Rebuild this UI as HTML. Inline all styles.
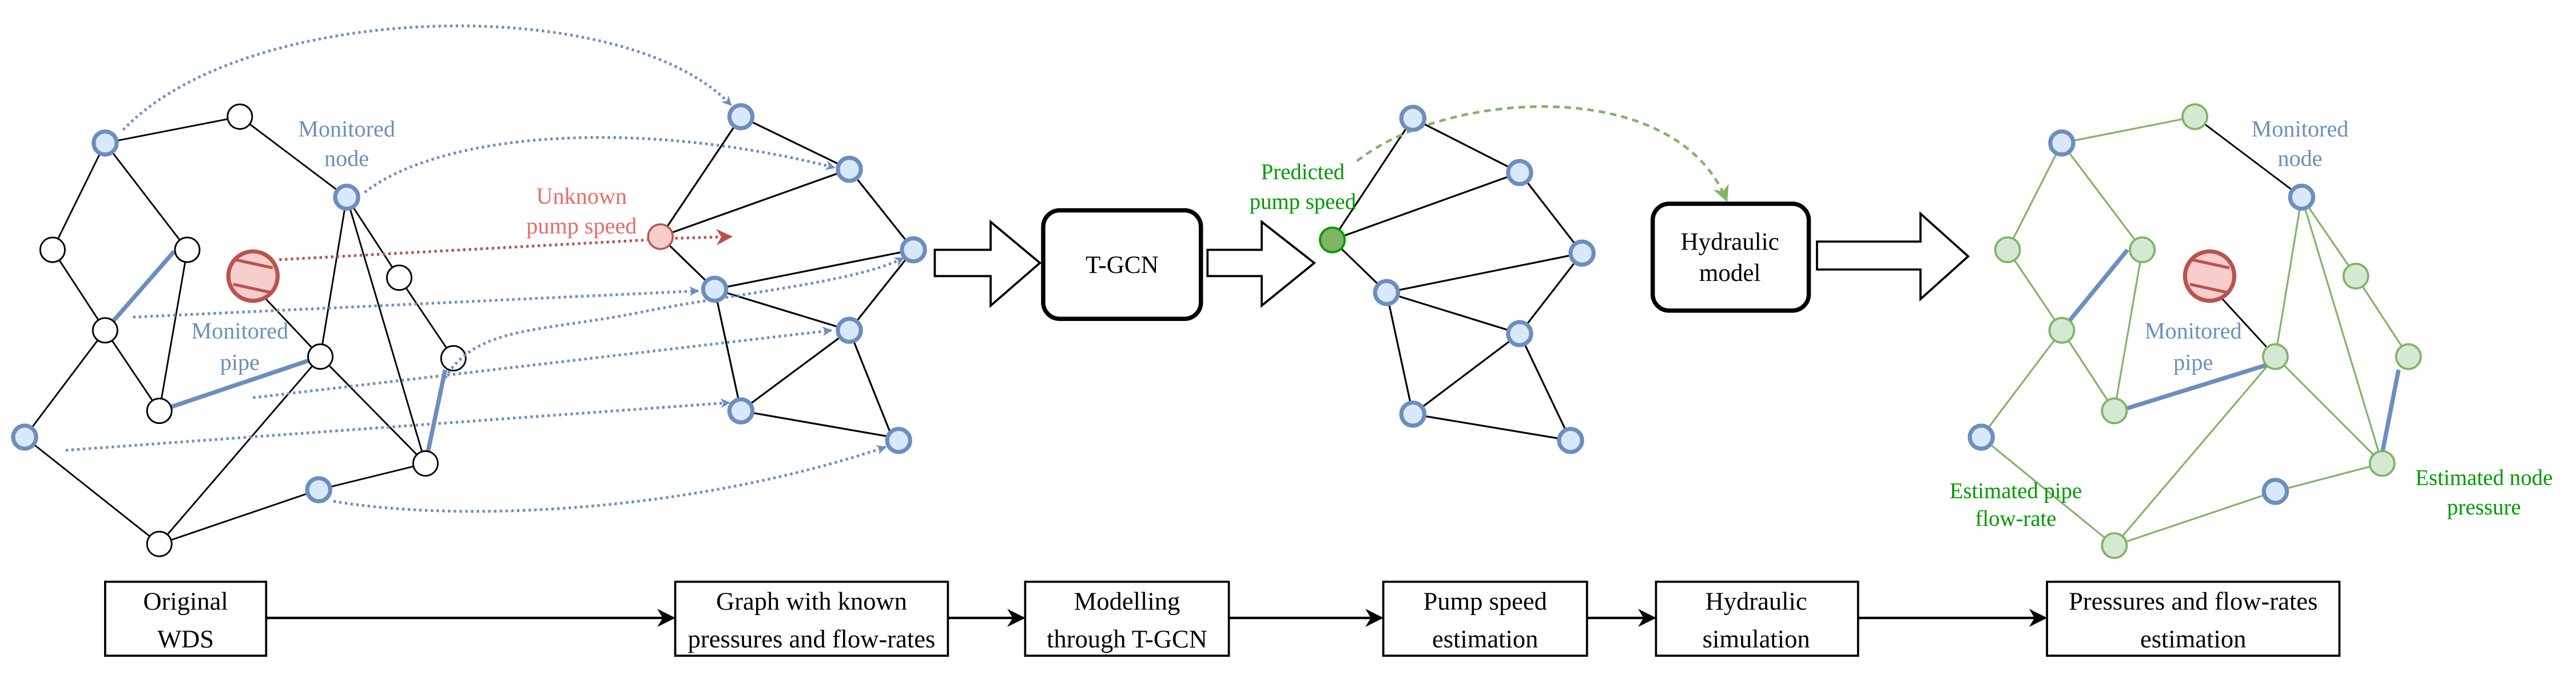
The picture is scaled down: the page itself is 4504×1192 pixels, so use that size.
<!DOCTYPE html>
<html><head><meta charset="utf-8"><style>
html,body{margin:0;padding:0;background:#fff;}
svg{display:block;}
svg text{font-family:"Liberation Serif","Times New Roman",serif;}
</style></head><body>
<svg width="4504" height="1192" viewBox="0 0 1568 415" preserveAspectRatio="none" xmlns="http://www.w3.org/2000/svg" font-family="Liberation Serif, serif">
<defs>
<marker id="ab" viewBox="0 0 10 10" refX="9" refY="5" markerWidth="6" markerHeight="6" orient="auto" markerUnits="userSpaceOnUse"><path d="M0,0 L10,5 L0,10 L3,5 Z" fill="#6c8ebf"/></marker>
<marker id="ar" viewBox="0 0 10 10" refX="9" refY="5" markerWidth="10" markerHeight="10" orient="auto" markerUnits="userSpaceOnUse"><path d="M0,0 L10,5 L0,10 L3,5 Z" fill="#b85450"/></marker>
<marker id="ag" viewBox="0 0 10 10" refX="9" refY="5" markerWidth="10" markerHeight="10" orient="auto" markerUnits="userSpaceOnUse"><path d="M0,0 L10,5 L0,10 L3,5 Z" fill="#82b366"/></marker>
<marker id="ak" viewBox="0 0 10 10" refX="9" refY="5" markerWidth="11" markerHeight="11" orient="auto" markerUnits="userSpaceOnUse"><path d="M0,0 L10,5 L0,10 L3,5 Z" fill="#000"/></marker>
</defs>

<g stroke="#000" stroke-width="1" fill="none">
<line x1="64" y1="87" x2="146" y2="71"/>
<line x1="64" y1="87" x2="32" y2="152"/>
<line x1="64" y1="87" x2="114" y2="152"/>
<line x1="146" y1="71" x2="211" y2="120"/>
<line x1="32" y1="152" x2="64" y2="201"/>
<line x1="114" y1="152" x2="97" y2="250"/>
<line x1="64" y1="201" x2="97" y2="250"/>
<line x1="64" y1="201" x2="15" y2="266"/>
<line x1="15" y1="266" x2="97" y2="331"/>
<line x1="97" y1="331" x2="195" y2="217"/>
<line x1="97" y1="331" x2="194" y2="298"/>
<line x1="194" y1="298" x2="259" y2="282"/>
<line x1="160" y1="180" x2="195" y2="217"/>
<line x1="211" y1="120" x2="195" y2="217"/>
<line x1="211" y1="120" x2="259" y2="282"/>
<line x1="211" y1="120" x2="243" y2="169"/>
<line x1="243" y1="169" x2="276" y2="218"/>
<line x1="195" y1="217" x2="259" y2="282"/>
</g>
<g stroke="#6c8ebf" stroke-width="2.6">
<line x1="64" y1="201" x2="106" y2="153"/>
<line x1="97" y1="250" x2="195" y2="217"/>
<line x1="271" y1="225" x2="259" y2="282"/>
</g>
<g fill="#fff" stroke="#000" stroke-width="1">
<circle cx="146" cy="71" r="7.5"/><circle cx="32" cy="152" r="7.5"/><circle cx="114" cy="152" r="7.5"/>
<circle cx="64" cy="201" r="7.5"/><circle cx="195" cy="217" r="7.5"/><circle cx="243" cy="169" r="7.5"/>
<circle cx="276" cy="218" r="7.5"/><circle cx="97" cy="250" r="7.5"/><circle cx="259" cy="282" r="7.5"/>
<circle cx="97" cy="331" r="7.5"/>
</g>
<g fill="#dae8fc" stroke="#6c8ebf" stroke-width="2.5">
<circle cx="64" cy="87" r="7"/><circle cx="211" cy="120" r="7"/><circle cx="15" cy="266" r="7"/><circle cx="194" cy="298" r="7"/>
</g>
<g stroke="#b85450" stroke-width="2.5">
<circle cx="154" cy="168" r="15" fill="#f8cecc"/>
<line x1="143" y1="158" x2="166" y2="163" stroke-width="1.8"/>
<line x1="142" y1="173" x2="165" y2="178" stroke-width="1.8"/>
</g>
<text x="211" y="83" font-size="14" fill="#6c8ebf" text-anchor="middle">Monitored</text>
<text x="211" y="101" font-size="14" fill="#6c8ebf" text-anchor="middle">node</text>
<text x="146" y="206" font-size="14" fill="#6c8ebf" text-anchor="middle">Monitored</text>
<text x="146" y="225" font-size="14" fill="#6c8ebf" text-anchor="middle">pipe</text>
<text x="354" y="124" font-size="14" fill="#ea6b66" text-anchor="middle">Unknown</text>
<text x="354" y="142" font-size="14" fill="#ea6b66" text-anchor="middle">pump speed</text>

<g stroke="#000" stroke-width="1.1">
<line x1="451" y1="71" x2="517" y2="103"/>
<line x1="451" y1="71" x2="402" y2="144"/>
<line x1="402" y1="144" x2="517" y2="103"/>
<line x1="517" y1="103" x2="556" y2="152"/>
<line x1="402" y1="144" x2="435" y2="176"/>
<line x1="435" y1="176" x2="556" y2="152"/>
<line x1="435" y1="176" x2="517" y2="201"/>
<line x1="556" y1="152" x2="517" y2="201"/>
<line x1="435" y1="176" x2="451" y2="250"/>
<line x1="451" y1="250" x2="517" y2="201"/>
<line x1="451" y1="250" x2="543" y2="266"/>
<line x1="517" y1="201" x2="543" y2="266"/>
</g>

<g fill="none" stroke="#6c8ebf" stroke-width="1.7" stroke-dasharray="1.5 2" marker-end="url(#ab)">
<path d="M75 79 C150 0, 380 -5, 445 64"/>
<path d="M222 117 C270 80, 390 72, 508 102"/>
<path d="M81 193 L425 177"/>
<path d="M154 242 L506 201"/>
<path d="M271 230 C290 198, 330 202, 390 190 S520 172, 550 157"/>
<path d="M40 274 L444 245"/>
<path d="M203 305 C280 318, 420 312, 539 272"/>
</g>
<g fill="none" stroke="#b85450" stroke-width="1.7" stroke-dasharray="1.5 2">
<path d="M170 158 L394 146"/>
<path d="M411 145 L445 144" marker-end="url(#ar)"/>
</g>

<g fill="#dae8fc" stroke="#6c8ebf" stroke-width="2.5">
<circle cx="451" cy="71" r="7"/><circle cx="517" cy="103" r="7"/><circle cx="556" cy="152" r="7"/>
<circle cx="435" cy="176" r="7"/><circle cx="517" cy="201" r="7"/><circle cx="451" cy="250" r="7"/><circle cx="547" cy="268" r="7"/>
</g>
<circle cx="402" cy="144" r="7.5" fill="#f8cecc" stroke="#b85450" stroke-width="1.2"/>

<g fill="#fff" stroke="#000" stroke-width="1.3">
<polygon points="569,152 603,152 603,135 633,160 603,186 603,168 569,168"/>
<polygon points="735,152 768,152 768,135 800,160 768,186 768,168 735,168"/>
<polygon points="1106,147 1169,147 1169,130 1198,156 1169,182 1169,164 1106,164"/>
</g>
<rect x="635" y="128" width="96" height="66" rx="10" fill="#fff" stroke="#000" stroke-width="2.6"/>
<text x="683" y="166" font-size="15" text-anchor="middle">T-GCN</text>
<rect x="1006" y="124" width="95" height="65" rx="10" fill="#fff" stroke="#000" stroke-width="2.6"/>
<text x="1053" y="152" font-size="15" text-anchor="middle">Hydraulic</text>
<text x="1053" y="171" font-size="15" text-anchor="middle">model</text>

<g stroke="#000" stroke-width="1.1">
<line x1="811" y1="146" x2="860" y2="72"/>
<line x1="811" y1="146" x2="925" y2="105"/>
<line x1="811" y1="146" x2="844" y2="178"/>
<line x1="860" y1="72" x2="925" y2="105"/>
<line x1="925" y1="105" x2="963" y2="154"/>
<line x1="844" y1="178" x2="963" y2="154"/>
<line x1="844" y1="178" x2="925" y2="203"/>
<line x1="963" y1="154" x2="925" y2="203"/>
<line x1="844" y1="178" x2="860" y2="252"/>
<line x1="860" y1="252" x2="925" y2="203"/>
<line x1="860" y1="252" x2="956" y2="268"/>
<line x1="925" y1="203" x2="956" y2="268"/>
</g>
<path d="M826 98 C880 55, 1020 45, 1051 122" fill="none" stroke="#82b366" stroke-width="1.6" stroke-dasharray="4 3" marker-end="url(#ag)"/>
<g fill="#dae8fc" stroke="#6c8ebf" stroke-width="2.5">
<circle cx="860" cy="72" r="7"/><circle cx="925" cy="105" r="7"/><circle cx="963" cy="154" r="7"/>
<circle cx="844" cy="178" r="7"/><circle cx="925" cy="203" r="7"/><circle cx="860" cy="252" r="7"/><circle cx="956" cy="268" r="7"/>
</g>
<circle cx="811" cy="146" r="7.5" fill="#82b366" stroke="#009900" stroke-width="1.3"/>
<text x="793" y="109" font-size="13.5" fill="#009900" text-anchor="middle">Predicted</text>
<text x="793" y="127" font-size="13.5" fill="#009900" text-anchor="middle">pump speed</text>

<g stroke="#82b366" stroke-width="1.1">
<line x1="1255" y1="87" x2="1336" y2="71"/>
<line x1="1255" y1="87" x2="1222" y2="152"/>
<line x1="1255" y1="87" x2="1304" y2="152"/>
<line x1="1222" y1="152" x2="1255" y2="201"/>
<line x1="1304" y1="152" x2="1287" y2="250"/>
<line x1="1255" y1="201" x2="1287" y2="250"/>
<line x1="1255" y1="201" x2="1206" y2="266"/>
<line x1="1206" y1="266" x2="1287" y2="332"/>
<line x1="1287" y1="332" x2="1385" y2="217"/>
<line x1="1287" y1="332" x2="1385" y2="299"/>
<line x1="1385" y1="299" x2="1450" y2="282"/>
<line x1="1385" y1="217" x2="1401" y2="120"/>
<line x1="1401" y1="120" x2="1450" y2="282"/>
<line x1="1401" y1="120" x2="1434" y2="168"/>
<line x1="1434" y1="168" x2="1466" y2="217"/>
<line x1="1385" y1="217" x2="1450" y2="282"/>
</g>
<g stroke="#000" stroke-width="1">
<line x1="1336" y1="71" x2="1401" y2="120"/>
<line x1="1351" y1="180" x2="1385" y2="217"/>
</g>
<g stroke="#6c8ebf" stroke-width="2.6">
<line x1="1259" y1="196" x2="1295" y2="152"/>
<line x1="1293" y1="249" x2="1380" y2="222"/>
<line x1="1460" y1="225" x2="1450" y2="276"/>
</g>
<g fill="#d5e8d4" stroke="#82b366" stroke-width="1.3">
<circle cx="1336" cy="71" r="7.5"/><circle cx="1222" cy="152" r="7.5"/><circle cx="1304" cy="152" r="7.5"/>
<circle cx="1434" cy="168" r="7.5"/><circle cx="1255" cy="201" r="7.5"/><circle cx="1385" cy="217" r="7.5"/>
<circle cx="1466" cy="217" r="7.5"/><circle cx="1287" cy="250" r="7.5"/><circle cx="1450" cy="282" r="7.5"/>
<circle cx="1287" cy="332" r="7.5"/>
</g>
<g fill="#dae8fc" stroke="#6c8ebf" stroke-width="2.5">
<circle cx="1255" cy="87" r="7"/><circle cx="1401" cy="120" r="7"/><circle cx="1206" cy="266" r="7"/><circle cx="1385" cy="299" r="7"/>
</g>
<g stroke="#b85450" stroke-width="2.5">
<circle cx="1345" cy="168" r="15" fill="#f8cecc"/>
<line x1="1334" y1="158" x2="1357" y2="163" stroke-width="1.8"/>
<line x1="1333" y1="173" x2="1356" y2="178" stroke-width="1.8"/>
</g>
<text x="1400" y="83" font-size="14" fill="#6c8ebf" text-anchor="middle">Monitored</text>
<text x="1400" y="101" font-size="14" fill="#6c8ebf" text-anchor="middle">node</text>
<text x="1335" y="206" font-size="14" fill="#6c8ebf" text-anchor="middle">Monitored</text>
<text x="1335" y="225" font-size="14" fill="#6c8ebf" text-anchor="middle">pipe</text>
<text x="1227" y="303" font-size="13.5" fill="#009900" text-anchor="middle">Estimated pipe</text>
<text x="1227" y="320" font-size="13.5" fill="#009900" text-anchor="middle">flow-rate</text>
<text x="1512" y="295" font-size="13.5" fill="#009900" text-anchor="middle">Estimated node</text>
<text x="1512" y="313" font-size="13.5" fill="#009900" text-anchor="middle">pressure</text>

<g fill="#fff" stroke="#000" stroke-width="1.3">
<rect x="64" y="354" width="98" height="45"/>
<rect x="411" y="354" width="166" height="45"/>
<rect x="624" y="354" width="124" height="45"/>
<rect x="842" y="354" width="124" height="45"/>
<rect x="1008" y="354" width="123" height="45"/>
<rect x="1246" y="354" width="178" height="45"/>
</g>
<g stroke="#000" stroke-width="1.5" marker-end="url(#ak)">
<line x1="162" y1="376" x2="410" y2="376"/>
<line x1="577" y1="376" x2="623" y2="376"/>
<line x1="748" y1="376" x2="841" y2="376"/>
<line x1="966" y1="376" x2="1007" y2="376"/>
<line x1="1131" y1="376" x2="1245" y2="376"/>
</g>
<g font-size="15.5" text-anchor="middle">
<text x="113" y="371">Original</text><text x="113" y="394">WDS</text>
<text x="494" y="371">Graph with known</text><text x="494" y="394">pressures and flow-rates</text>
<text x="686" y="371">Modelling</text><text x="686" y="394">through T-GCN</text>
<text x="904" y="371">Pump speed</text><text x="904" y="394">estimation</text>
<text x="1069" y="371">Hydraulic</text><text x="1069" y="394">simulation</text>
<text x="1335" y="371">Pressures and flow-rates</text><text x="1335" y="394">estimation</text>
</g>
</svg>
</body></html>
